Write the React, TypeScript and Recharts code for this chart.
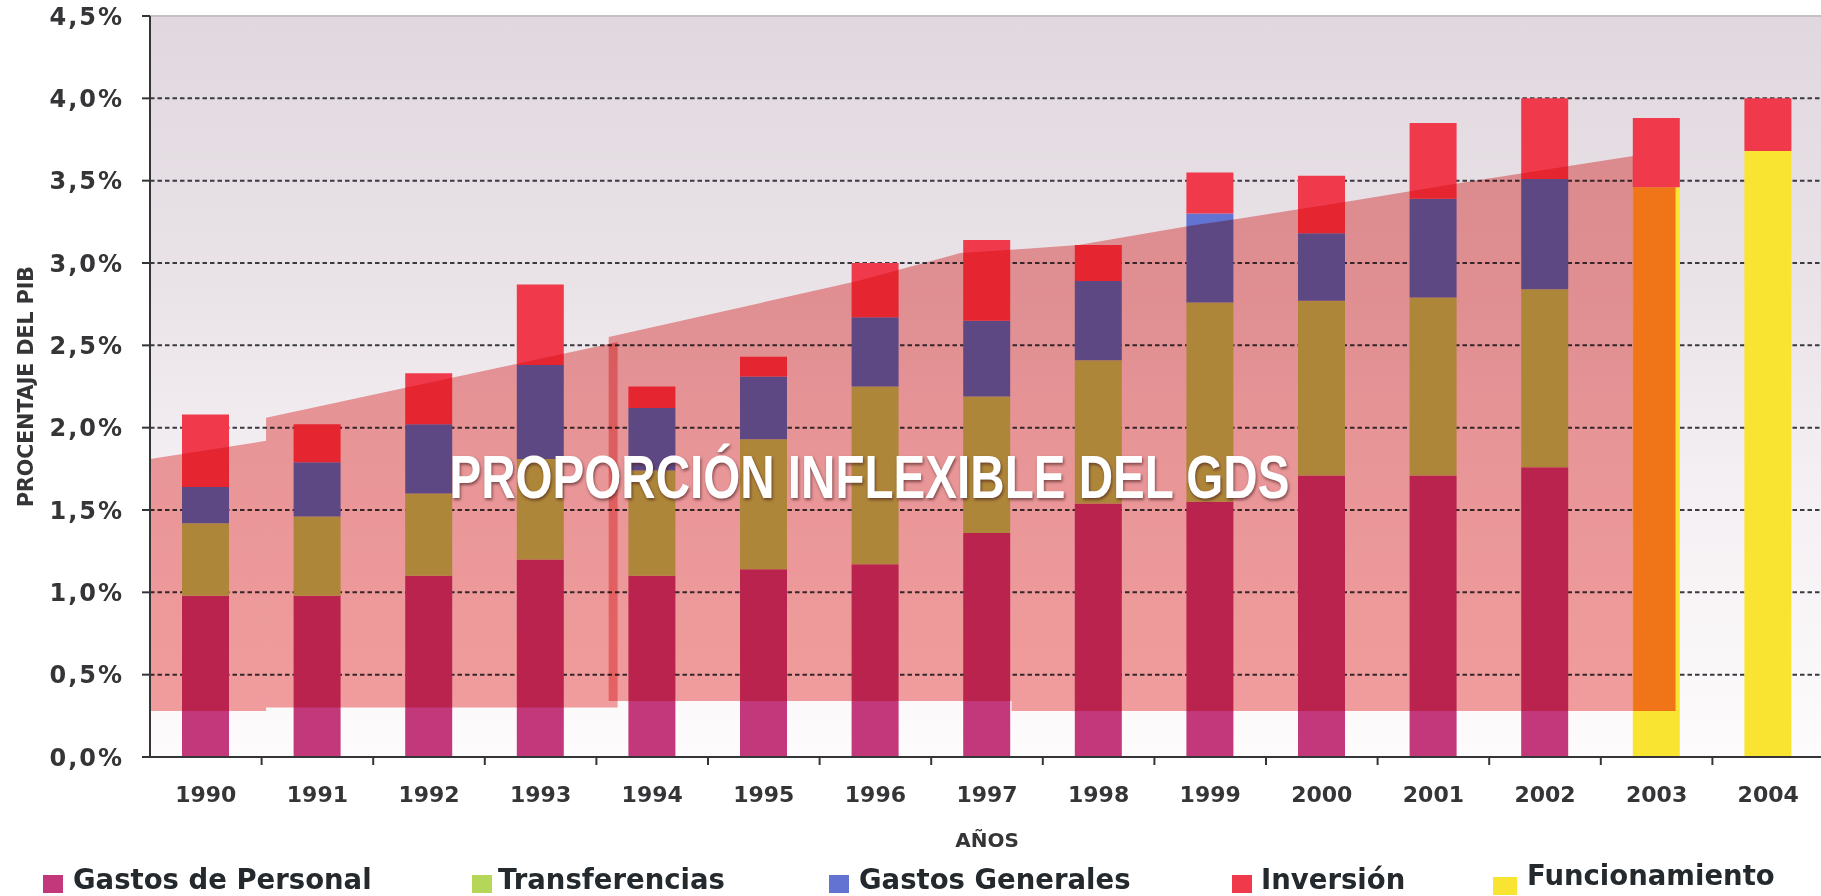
import React from 'react';
import {
  ComposedChart, Bar, Area, XAxis, YAxis, CartesianGrid,
  ReferenceLine, ReferenceDot, Legend,
} from 'recharts';

// values (% of GDP)
const years = ['1990', '1991', '1992', '1993', '1994', '1995', '1996', '1997', '1998', '1999', '2000', '2001', '2002', '2003', '2004'];
const personal = [0.98, 0.98, 1.10, 1.20, 1.10, 1.14, 1.17, 1.36, 1.54, 1.55, 1.71, 1.71, 1.76, 0, 0];
const transferencias = [0.44, 0.48, 0.50, 0.61, 0.64, 0.79, 1.08, 0.83, 0.87, 1.21, 1.06, 1.08, 1.08, 0, 0];
const generales = [0.22, 0.33, 0.42, 0.57, 0.38, 0.38, 0.42, 0.46, 0.48, 0.54, 0.41, 0.60, 0.67, 0, 0];
const funcionamiento = [0, 0, 0, 0, 0, 0, 0, 0, 0, 0, 0, 0, 0, 3.46, 3.68];
const inversion = [0.44, 0.23, 0.31, 0.49, 0.13, 0.12, 0.33, 0.49, 0.22, 0.25, 0.35, 0.46, 0.49, 0.42, 0.32];

const seriesKeys = ['personal', 'transferencias', 'generales', 'inversion', 'funcionamiento'];
const seriesNames = ['Gastos de Personal', 'Transferencias', 'Gastos Generales', 'Inversión', 'Funcionamiento'];
const seriesColors = ['#c2387a', '#b6d65a', '#6273d2', '#f03a4c', '#f9e531'];

const yTicks = [0, 0.5, 1, 1.5, 2, 2.5, 3, 3.5, 4, 4.5];
const gridValues = [0.5, 1, 1.5, 2, 2.5, 3, 3.5, 4];

// the pasted-on "inflexible" band, x in category units, r = [bottom, top]
const overlayLeft = [
  { x: -0.5, r: [0.28, 1.81] },
  { x: 0.54, r: [0.28, 1.92] },
];
const overlayMiddle = [
  { x: 0.54, r: [0.30, 2.06] },
  { x: 3.69, r: [0.30, 2.52] },
];
const overlayRight = [
  { x: 3.61, r: [0.34, 2.55] },
  { x: 5.84, r: [0.34, 2.89] },
  { x: 6.76, r: [0.34, 3.06] },
  { x: 7.22, r: [0.34, 3.08] },
  { x: 7.22, r: [0.28, 3.08] },
  { x: 7.82, r: [0.28, 3.11] },
  { x: 8.85, r: [0.28, 3.23] },
  { x: 9.27, r: [0.28, 3.27] },
  { x: 10.29, r: [0.28, 3.38] },
  { x: 11.28, r: [0.28, 3.49] },
  { x: 12.79, r: [0.28, 3.65] },
];
const overlay2003 = [
  { x: 12.79, r: [0.28, 3.46] },
  { x: 13.17, r: [0.28, 3.46] },
];

const overlayPieces = [overlayLeft, overlayMiddle, overlayRight, overlay2003];
const overlayColors = ['#f4a0a0', '#f4a0a0', '#f4a0a0', '#f6827c'];

const data = years.map((year, i) => ({
  year,
  personal: personal[i],
  transferencias: transferencias[i],
  generales: generales[i],
  funcionamiento: funcionamiento[i],
  inversion: inversion[i],
}));

const FONT = '"DejaVu Sans", Verdana, sans-serif';
const INK = '#353538';
const X_TICK_GAP = 29;

const fmtPct = (v: number) => `${v.toFixed(1).replace('.', ',')}%`;

const YearTick = (props: any) => {
  const { x, y, payload, index, width, visibleTicksCount } = props;
  const count = visibleTicksCount || years.length;
  const band = width ? width / count : 111.6;
  const axisY = y - X_TICK_GAP;
  return (
    <g>
      {index < count - 1 && (
        <line x1={x + band / 2} x2={x + band / 2} y1={axisY} y2={axisY + 8} stroke={INK} strokeWidth={2} />
      )}
      <text x={x} y={y} dy={15.6} textAnchor="middle" fill={INK} fontFamily={FONT} fontWeight="bold" fontSize={22}>
        {payload.value}
      </text>
    </g>
  );
};

const PctTick = (props: any) => {
  const { x, y, payload } = props;
  return (
    <text x={x} y={y} dy="0.355em" textAnchor="end" fill={INK} fontFamily={FONT} fontWeight="bold" fontSize={24} letterSpacing={2}>
      {fmtPct(payload.value)}
    </text>
  );
};

const TitleShape = (props: any) => (
  <text
    x={props.cx}
    y={props.cy}
    dx={-6}
    textAnchor="middle"
    fontFamily='"Liberation Sans", Arial, sans-serif'
    fontWeight="bold"
    fontSize={61}
    fill="#ffffff"
    textLength={840}
    lengthAdjust="spacingAndGlyphs"
    style={{ filter: 'drop-shadow(1px 2px 1.5px rgba(70,30,30,0.65))' }}
  >
    PROPORCIÓN INFLEXIBLE DEL GDS
  </text>
);

const legendLayout = [
  { sx: 43, sy: 19, sw: 20, tx: 73, ty: 9 },
  { sx: 472, sy: 19, sw: 20, tx: 498, ty: 9 },
  { sx: 829, sy: 19, sw: 20, tx: 859, ty: 9 },
  { sx: 1232, sy: 19, sw: 20, tx: 1261, ty: 9 },
  { sx: 1493, sy: 21, sw: 24, tx: 1527, ty: 5 },
];

const renderLegend = () => (
  <div style={{ position: 'relative', width: 1821, height: 40, fontFamily: FONT, fontWeight: 'bold', fontSize: 27.5, color: '#24292d' }}>
    {seriesNames.map((name, i) => {
      const l = legendLayout[i];
      return (
        <React.Fragment key={name}>
          <span style={{ position: 'absolute', left: l.sx, top: l.sy, width: l.sw, height: 18, background: seriesColors[i] }} />
          <span style={{ position: 'absolute', left: l.tx, top: l.ty, lineHeight: '28px', whiteSpace: 'nowrap' }}>{name}</span>
        </React.Fragment>
      );
    })}
  </div>
);

const stackOrder = ['personal', 'transferencias', 'generales', 'funcionamiento', 'inversion'];

export default function App() {
  return (
    <div style={{ position: 'absolute', left: 0, top: 0, width: 1821, height: 896, overflow: 'hidden', background: '#ffffff' }}>
      <style>{'.ov-area { mix-blend-mode: multiply; }'}</style>
      <ComposedChart width={1824} height={896} data={data} margin={{ top: 16, right: 0, bottom: 0, left: 0 }}>
        <defs>
          <linearGradient id="plotBg" x1="0" y1="0" x2="0" y2="1">
            <stop offset="0%" stopColor="#e0d8de" />
            <stop offset="35%" stopColor="#e9e2e7" />
            <stop offset="62%" stopColor="#f4eff2" />
            <stop offset="100%" stopColor="#fdfbfc" />
          </linearGradient>
        </defs>
        <CartesianGrid
          vertical={false}
          horizontalValues={gridValues}
          stroke="#3a3a40"
          strokeWidth={2}
          strokeDasharray="4.5 3"
          fill="url(#plotBg)"
        />
        <XAxis
          dataKey="year"
          height={139}
          interval={0}
          tickLine={false}
          tickSize={0}
          tickMargin={X_TICK_GAP}
          axisLine={{ stroke: INK, strokeWidth: 2 }}
          tick={<YearTick />}
          label={{ value: 'AÑOS', position: 'insideTop', offset: 76, fill: INK, fontFamily: FONT, fontWeight: 'bold', fontSize: 20 }}
        />
        <XAxis xAxisId="ov" type="number" dataKey="x" domain={[-0.5, 14.5]} hide />
        <YAxis
          width={150}
          domain={[0, 4.5]}
          ticks={yTicks}
          interval={0}
          tickSize={8}
          tickMargin={18}
          tick={<PctTick />}
          axisLine={{ stroke: INK, strokeWidth: 2 }}
          tickLine={{ stroke: INK, strokeWidth: 2 }}
          label={{
            value: 'PROCENTAJE DEL PIB', angle: -90, position: 'insideLeft', offset: 26,
            fill: INK, fontFamily: FONT, fontWeight: 'bold', fontSize: 20.5, style: { textAnchor: 'middle' },
          }}
        />
        <ReferenceLine y={4.5} stroke="#c4c0c4" strokeWidth={2} />
        {stackOrder.map((key) => {
          const i = seriesKeys.indexOf(key);
          return (
            <Bar
              key={key}
              dataKey={key}
              name={seriesNames[i]}
              stackId="gds"
              fill={seriesColors[i]}
              barSize={47}
              isAnimationActive={false}
            />
          );
        })}
        {overlayPieces.map((pts, i) => (
          <Area
            key={`ov-${i}`}
            className="ov-area"
            xAxisId="ov"
            data={pts}
            dataKey="r"
            type="linear"
            fill={overlayColors[i]}
            fillOpacity={1}
            stroke="none"
            dot={false}
            activeDot={false}
            zIndex={350}
            isAnimationActive={false}
            legendType="none"
          />
        ))}
        <ReferenceDot x="1996" y={1.57} r={0} ifOverflow="visible" shape={TitleShape} />
        <Legend
          layout="horizontal"
          verticalAlign="middle"
          align="center"
          content={renderLegend}
          wrapperStyle={{ top: 856, left: 0, width: 1821, height: 40 }}
        />
      </ComposedChart>
    </div>
  );
}
